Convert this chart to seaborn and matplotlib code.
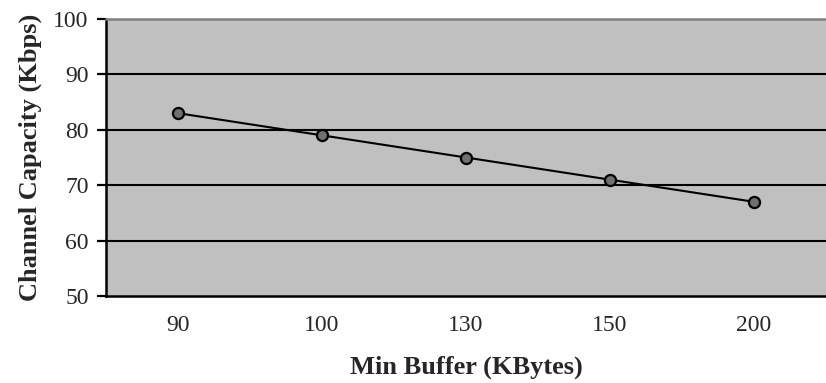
import seaborn as sns
import matplotlib.pyplot as plt
import pandas as pd

# data
buffer_kb = ['90', '100', '130', '150', '200']
capacity = [83, 79, 75, 71, 67]
y_ticks = [50, 60, 70, 80, 90, 100]

sns.set_style('white')
plt.rcParams['font.family'] = ['Liberation Serif', 'DejaVu Serif']

df = pd.DataFrame({'buffer': buffer_kb, 'capacity': capacity})

fig = plt.figure(figsize=(8.26, 3.83), dpi=100)
ax = fig.add_axes([106 / 826, 87 / 383, 720 / 826, 277 / 383])
ax.set_facecolor('#c0c0c0')

ax.grid(False)
for v in y_ticks[1:-1]:
	ax.axhline(v, color='black', lw=1.5, zorder=1)

sns.lineplot(data=df, x='buffer', y='capacity', ax=ax, color='black', lw=1.5,
	marker='o', markersize=8, markerfacecolor='#707070', markeredgecolor='black',
	markeredgewidth=1.6, zorder=3)

ax.set_xlim(-0.5, len(buffer_kb) - 0.5)
ax.set_ylim(50, 100)
ax.set_yticks(y_ticks)
ax.set_xticks(range(len(buffer_kb)))
ax.set_xticklabels(buffer_kb)
ax.set_xticks([i - 0.5 for i in range(len(buffer_kb) + 1)], minor=True)
ax.tick_params(axis='x', which='major', length=0, labelsize=17, pad=14)
ax.tick_params(axis='x', which='minor', length=6.5, width=1.6, direction='out', color='black')
ax.tick_params(axis='y', length=6.5, width=1.6, direction='out', color='black', labelsize=17, pad=6, left=True)

for side in ['left', 'bottom']:
	ax.spines[side].set_color('black')
	ax.spines[side].set_linewidth(1.8)
ax.spines['top'].set_color('#808080')
ax.spines['top'].set_linewidth(1.8)
ax.spines['right'].set_visible(False)

ax.set_xlabel('Min Buffer (KBytes)', fontsize=19, fontweight='bold')
ax.set_ylabel('Channel Capacity (Kbps)', fontsize=19, fontweight='bold')
ax.xaxis.set_label_coords(0.5, (296 - 356) / 277)
ax.yaxis.set_label_coords((42 - 106) / 720, 0.5)

plt.savefig('out.png', dpi=100)
